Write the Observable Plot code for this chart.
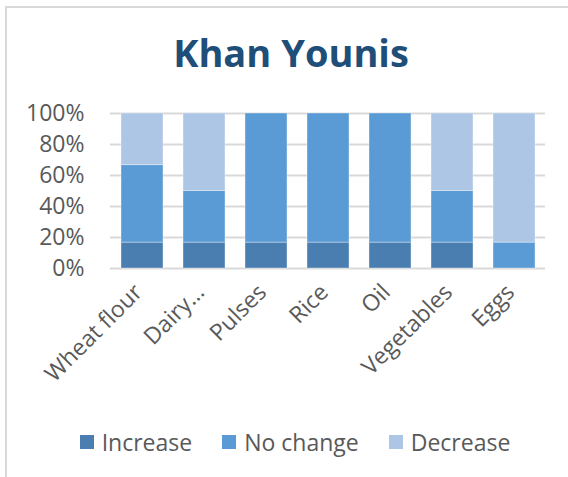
<!DOCTYPE html>
<html>
<head>
<meta charset="utf-8">
<script src="https://cdn.jsdelivr.net/npm/d3@7"></script>
<script src="https://cdn.jsdelivr.net/npm/@observablehq/plot@0.6"></script>
<style>
  body { margin: 0; background: #fff; }
  #wrap { position: relative; width: 568px; height: 477px; overflow: hidden; font-family: "Open Sans", sans-serif; background: #fff; }
  #frame { position: absolute; left: 5px; top: 6px; width: 600px; height: 500px; border-left: 2px solid #d9d9d9; border-top: 2px solid #d9d9d9; }
  #title { position: absolute; left: 0; width: 582px; top: 33px; text-align: center; font-size: 38px; line-height: 1; font-weight: 700; color: #1f4e79; }
  #chart { position: absolute; left: 0; top: 0; }
  #legend { position: absolute; left: 0; width: 590px; top: 426px; display: flex; justify-content: center; align-items: center; font-size: 23px; line-height: 32px; color: #595959; }
  .item { display: flex; align-items: center; margin: 0 15px; }
  .sw { width: 14px; height: 14px; margin-right: 8px; }
</style>
</head>
<body>
<div id="wrap">
  <div id="frame"></div>
  <div id="title">Khan Younis</div>
  <div id="chart"></div>
  <div id="legend"></div>
</div>
<script>
const categories = ["Wheat flour", "Dairy…", "Pulses", "Rice", "Oil", "Vegetables", "Eggs"];
const series = ["Increase", "No change", "Decrease"];
const increase = [16.7, 16.7, 16.7, 16.7, 16.7, 16.7, 0];
const noChange = [50, 33.3, 83.3, 83.3, 83.3, 33.3, 16.7];
const decrease = [33.3, 50, 0, 0, 0, 50, 83.3];
const colors = ["#4a7eb0", "#5b9bd5", "#adc6e6"];
const yTicks = [0, 20, 40, 60, 80, 100];

const values = [increase, noChange, decrease];
const data = [];
series.forEach((s, si) => {
  categories.forEach((c, ci) => {
    data.push({category: c, series: s, value: values[si][ci]});
  });
});

const chart = Plot.plot({
  width: 568,
  height: 420,
  marginTop: 113,
  marginBottom: 152,
  marginLeft: 110,
  marginRight: 23,
  style: { fontFamily: "Open Sans, sans-serif", fontSize: "23px", color: "#595959", background: "transparent", overflow: "visible" },
  x: { domain: categories, paddingInner: 0.33, paddingOuter: 0.165 },
  y: { domain: [0, 100] },
  color: { domain: series, range: colors },
  marks: [
    Plot.ruleY(yTicks, { stroke: "#d9d9d9", strokeWidth: 2 }),
    Plot.barY(data, Plot.stackY({ order: series }, { x: "category", y: "value", fill: "series", z: "series", stroke: "#ffffff", strokeOpacity: 0.35, strokeWidth: 1 })),
    Plot.axisY({ ticks: yTicks, tickFormat: d => d + "%", label: null, tickSize: 0, tickPadding: 26 }),
    Plot.axisX({ label: null, tickSize: 0, tickRotate: -45, tickPadding: 20, dx: -4 })
  ]
});
document.getElementById("chart").appendChild(chart);

const legend = document.getElementById("legend");
series.forEach((s, i) => {
  const item = document.createElement("div");
  item.className = "item";
  const sw = document.createElement("div");
  sw.className = "sw";
  sw.style.background = colors[i];
  const t = document.createElement("span");
  t.textContent = s;
  item.appendChild(sw);
  item.appendChild(t);
  legend.appendChild(item);
});
</script>
</body>
</html>
